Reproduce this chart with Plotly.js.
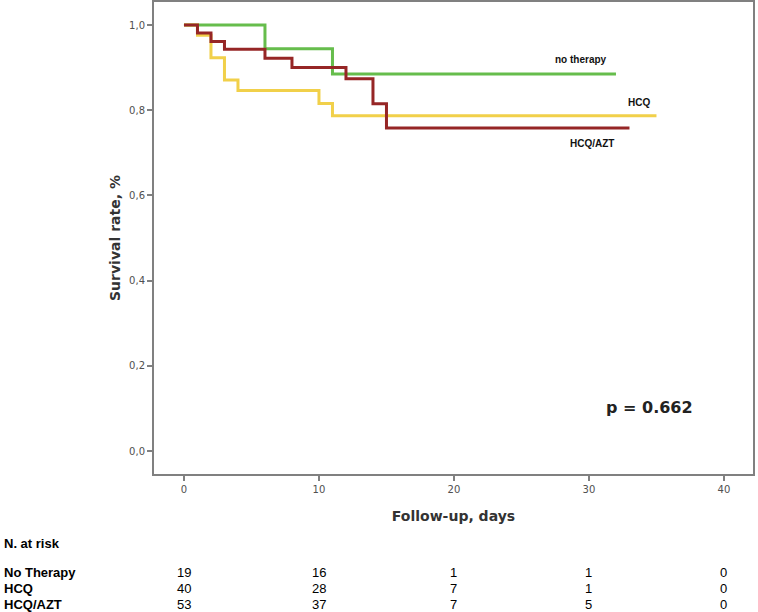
<!DOCTYPE html>
<html>
<head>
<meta charset="utf-8">
<script src="https://cdn.plot.ly/plotly-3.0.1.min.js"></script>
<style>html,body{margin:0;padding:0;background:#fff;}#chart{width:758px;height:612px;}</style>
</head>
<body>
<div id="chart"></div>
<script>
// Kaplan-Meier step data
var noTherapyDays = [0, 6, 11, 32];
var noTherapySurv = [1.0, 0.944, 0.885, 0.885];

var hcqDays = [0, 1, 2, 3, 4, 10, 11, 35];
var hcqSurv = [1.0, 0.976, 0.923, 0.871, 0.846, 0.816, 0.787, 0.787];

var hcqAztDays = [0, 1, 2, 3, 6, 8, 12, 14, 15, 33];
var hcqAztSurv = [1.0, 0.981, 0.961, 0.943, 0.922, 0.900, 0.874, 0.815, 0.758, 0.758];

var seriesNames = ["no therapy", "HCQ", "HCQ/AZT"];

// Axis ticks
var xTickVals = [0, 10, 20, 30, 40];
var xTickText = ["0", "10", "20", "30", "40"];
var yTickVals = [0, 0.2, 0.4, 0.6, 0.8, 1.0];
var yTickText = ["0,0", "0,2", "0,4", "0,6", "0,8", "1,0"];

// Number at risk table
var riskTimes = [0, 10, 20, 30, 40];
var riskGroups = ["No Therapy", "HCQ", "HCQ/AZT"];
var riskNoTherapy = [19, 16, 1, 1, 0];
var riskHCQ = [40, 28, 7, 1, 0];
var riskHCQAZT = [53, 37, 7, 5, 0];
var pValueText = "p = 0.662";

var colors = ["#66bd4c", "#f1d04a", "#962626"];

var traces = [
  {x: noTherapyDays, y: noTherapySurv, name: seriesNames[0]},
  {x: hcqDays, y: hcqSurv, name: seriesNames[1]},
  {x: hcqAztDays, y: hcqAztSurv, name: seriesNames[2]}
].map(function (t, i) {
  return {
    x: t.x, y: t.y, name: t.name, type: "scatter", mode: "lines",
    line: {shape: "hv", color: colors[i], width: 3},
    hoverinfo: "x+y+name"
  };
});

var annotations = [];
// curve labels
var labelFont = {family: "Liberation Sans, Arial, sans-serif", size: 10, color: "#111"};
annotations.push({x: 29.4, y: 0.918, xref: "x", yref: "y", text: "<b>" + seriesNames[0] + "</b>", showarrow: false, font: labelFont});
annotations.push({x: 33.7, y: 0.819, xref: "x", yref: "y", text: "<b>" + seriesNames[1] + "</b>", showarrow: false, font: labelFont});
annotations.push({x: 30.2, y: 0.721, xref: "x", yref: "y", text: "<b>" + seriesNames[2] + "</b>", showarrow: false, font: labelFont});
// p value
annotations.push({x: 34.5, y: 0.101, xref: "x", yref: "y", text: "<b>" + pValueText + "</b>", showarrow: false,
  font: {family: "DejaVu Sans, sans-serif", size: 16, color: "#222"}});

// risk table
var tableFont = {family: "Liberation Sans, Arial, sans-serif", size: 13, color: "#000"};
annotations.push({x: -0.2538, y: -0.148, xref: "paper", yref: "paper", xanchor: "left", yanchor: "middle",
  text: "<b>N. at risk</b>", showarrow: false, font: tableFont});
var rowY = [-0.2097, -0.2436, -0.2775];
var rowVals = [riskNoTherapy, riskHCQ, riskHCQAZT];
riskGroups.forEach(function (g, r) {
  annotations.push({x: -0.2538, y: rowY[r], xref: "paper", yref: "paper", xanchor: "left", yanchor: "middle",
    text: "<b>" + g + "</b>", showarrow: false, font: tableFont});
  rowVals[r].forEach(function (v, c) {
    annotations.push({x: riskTimes[c], y: rowY[r], xref: "x", yref: "paper", xanchor: "center", yanchor: "middle",
      text: String(v), showarrow: false, font: tableFont});
  });
});

var axisFont = {family: "DejaVu Sans, sans-serif", size: 10, color: "#505050"};
var titleFont = {family: "DejaVu Sans, sans-serif", size: 14, color: "#333"};

var layout = {
  width: 758, height: 612,
  margin: {l: 154, r: 5, t: 2, b: 138},
  paper_bgcolor: "#fff", plot_bgcolor: "#fff",
  showlegend: false,
  xaxis: {
    range: [-2.22, 42.15], tickvals: xTickVals, ticktext: xTickText,
    showgrid: false, zeroline: false, showline: true, mirror: true,
    linecolor: "#808080", linewidth: 2,
    ticks: "outside", ticklen: 5, tickwidth: 2, tickcolor: "#808080",
    tickfont: axisFont,
    title: {text: "<b>Follow-up, days</b>", font: titleFont, standoff: 17}
  },
  yaxis: {
    range: [-0.054, 1.054], tickvals: yTickVals, ticktext: yTickText,
    showgrid: false, zeroline: false, showline: true, mirror: true,
    linecolor: "#808080", linewidth: 2,
    ticks: "outside", ticklen: 5, tickwidth: 2, tickcolor: "#808080",
    tickfont: axisFont,
    title: {text: "<b>Survival rate, %</b>", font: titleFont, standoff: 5}
  },
  annotations: annotations
};

Plotly.newPlot("chart", traces, layout, {displayModeBar: false, staticPlot: true});
</script>
</body>
</html>
